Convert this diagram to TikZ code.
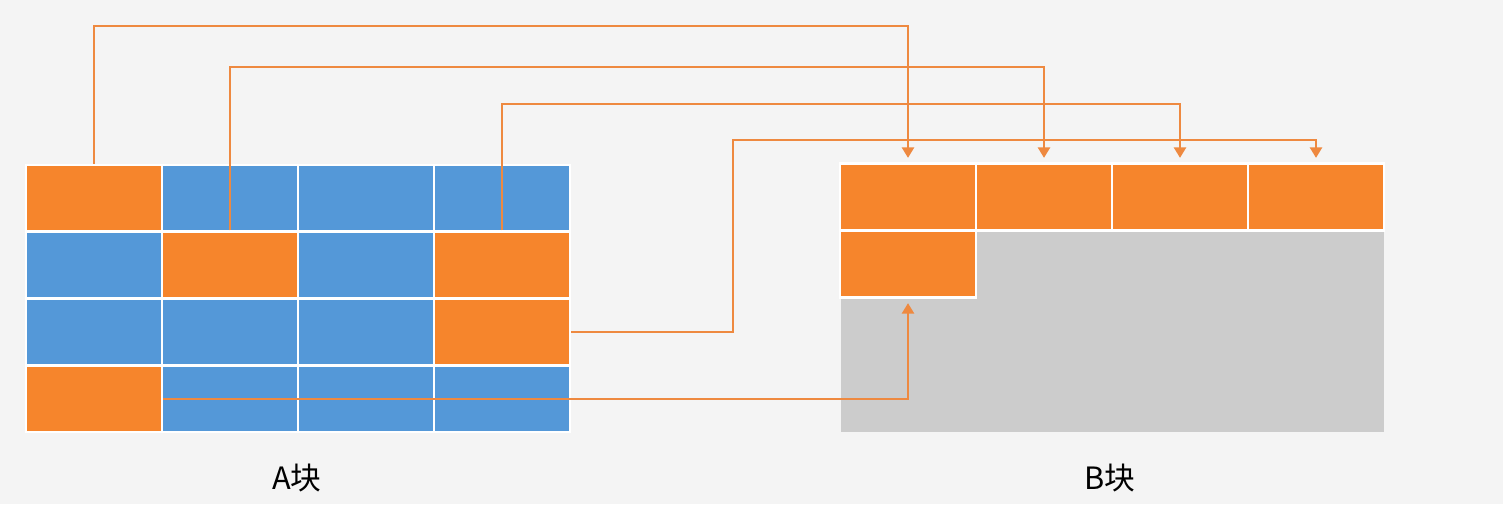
\documentclass[tikz,border=0pt]{standalone}
\usepackage{fontspec}
\setmainfont{Noto Sans CJK SC}
\usetikzlibrary{arrows.meta}
\definecolor{bgc}{HTML}{F4F4F4}
\definecolor{orc}{HTML}{F6852C}
\definecolor{blc}{HTML}{5498D8}
\definecolor{grc}{HTML}{CCCCCC}
\definecolor{lnc}{HTML}{EE8940}
\begin{document}
\begin{tikzpicture}[x=0.02cm, y=-0.02cm,
  cell/.style={draw=white, line width=1.6pt, minimum width=2.72cm, minimum height=1.335cm, inner sep=0pt},
  hot/.style={cell, fill=orc},
  cold/.style={cell, fill=blc},
  link/.style={lnc, line width=1.1pt, -{Triangle[width=7pt,length=6pt]}, shorten >=2.5pt},
  lbl/.style={font=\fontsize{17.5}{20}\selectfont}]
% Background
\fill[bgc] (0,0) rectangle (1503,504);
\useasboundingbox (0,0) rectangle (1503,504);

% A block
\node[hot]  (a11) at (94,198.4) {};
\node[cold] (a12) at (230,198.4) {};
\node[cold] (a13) at (366,198.4) {};
\node[cold] (a14) at (502,198.4) {};
\node[cold] (a21) at (94,265.1) {};
\node[hot]  (a22) at (230,265.1) {};
\node[cold] (a23) at (366,265.1) {};
\node[hot]  (a24) at (502,265.1) {};
\node[cold] (a31) at (94,331.9) {};
\node[cold] (a32) at (230,331.9) {};
\node[cold] (a33) at (366,331.9) {};
\node[hot]  (a34) at (502,331.9) {};
\node[hot]  (a41) at (94,398.6) {};
\node[cold] (a42) at (230,398.6) {};
\node[cold] (a43) at (366,398.6) {};
\node[cold] (a44) at (502,398.6) {};

% B block
\fill[grc] (841,229) rectangle (1384,432);
\node[hot] (b1) at (908,197) {};
\node[hot] (b2) at (1044,197) {};
\node[hot] (b3) at (1180,197) {};
\node[hot] (b4) at (1316,197) {};
\node[hot] (b5) at (908,264) {};

% Copies
\draw[link] (a11.north) -- (a11.north |- 0,26) -| (b1.north);
\draw[link] (a22.north) -- (a22.north |- 0,67) -| (b2.north);
\draw[link] (a24.north) -- (a24.north |- 0,104) -| (b3.north);
\draw[link] (a34.east) -| (733,140) -| (b4.north);
\draw[link] (a41.east) -| (b5.south);

% Labels
\node[lbl] (la) at (297,478) {A块};
\node[lbl] (lb) at (1110,478) {B块};
\end{tikzpicture}
\end{document}
